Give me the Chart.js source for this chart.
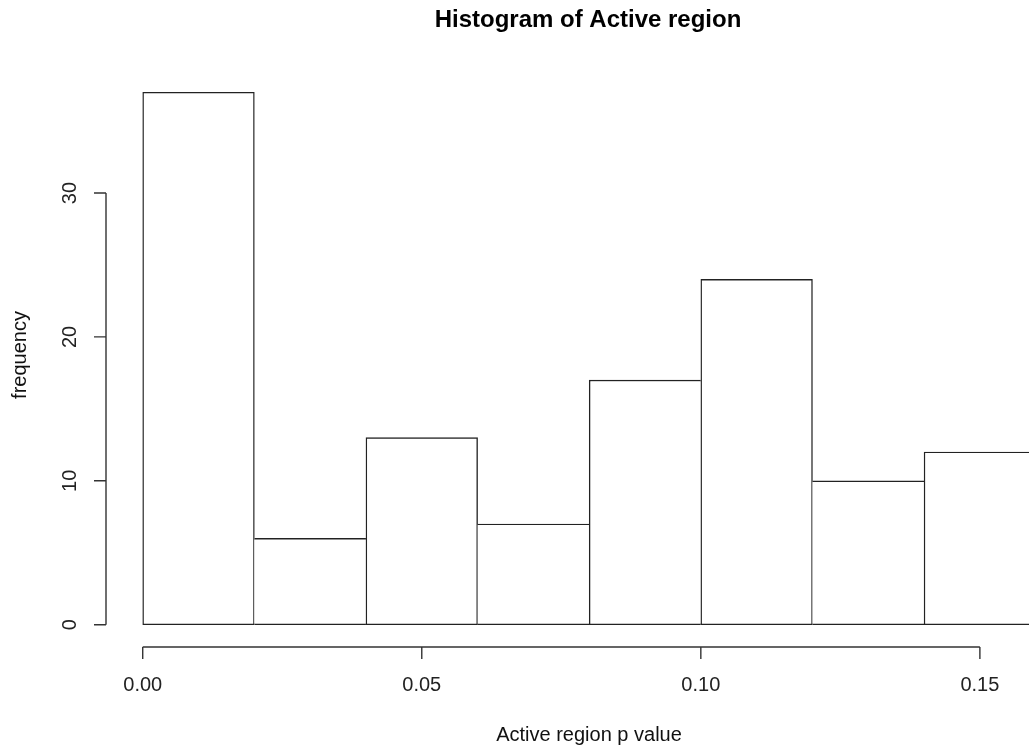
<!DOCTYPE html>
<html>
<head>
<meta charset="utf-8">
<script src="https://cdn.jsdelivr.net/npm/chart.js@4"></script>
<style>
  html, body { margin: 0; padding: 0; background: #fff; }
  #wrap { width: 1029px; height: 749px; }
</style>
</head>
<body>
<div id="wrap"><canvas id="graph"></canvas></div>
<script>
// histogram bins (left edges) and counts
const binStarts = [0.00, 0.02, 0.04, 0.06, 0.08, 0.10, 0.12, 0.14];
const binWidth = 0.02;
const counts = [37, 6, 13, 7, 17, 24, 10, 12];
const xTicks = [0.00, 0.05, 0.10, 0.15];
const xTickLabels = ['0.00', '0.05', '0.10', '0.15'];
const yTicks = [0, 10, 20, 30];

const titleText = 'Histogram of Active region';
const xTitle = 'Active region p value';
const yTitle = 'frequency';
const fontFamily = '"Liberation Sans", Arial, sans-serif';
const lineW = 1.4;

const barData = binStarts.map((s, i) => ({ x: s + binWidth / 2, y: counts[i] }));

// shared bar edges are drawn once, by the taller neighbour
function edgeWidths(ctx) {
    const i = ctx.dataIndex;
    const c = counts[i];
    const prev = i > 0 ? counts[i - 1] : -1;
    const next = i < counts.length - 1 ? counts[i + 1] : -1;
    return {
        top: lineW,
        bottom: lineW,
        left: c >= prev ? lineW : 0,
        right: c > next ? lineW : 0
    };
}

// R style axes, drawn off the plot region
const rAxes = {
    id: 'rAxes',
    afterDraw(chart) {
        const ctx = chart.ctx;
        const xs = chart.scales.x;
        const ys = chart.scales.y;
        const area = chart.chartArea;
        ctx.save();
        ctx.strokeStyle = '#333';
        ctx.fillStyle = '#222';
        ctx.lineWidth = lineW;

        // x axis
        const xAxisY = area.bottom + 1;
        const x0 = xs.getPixelForValue(xTicks[0]);
        const x1 = xs.getPixelForValue(xTicks[xTicks.length - 1]);
        ctx.beginPath();
        ctx.moveTo(x0, xAxisY);
        ctx.lineTo(x1, xAxisY);
        xTicks.forEach(v => {
            const px = xs.getPixelForValue(v);
            ctx.moveTo(px, xAxisY);
            ctx.lineTo(px, xAxisY + 12);
        });
        ctx.stroke();
        ctx.font = '20px ' + fontFamily;
        ctx.textAlign = 'center';
        ctx.textBaseline = 'middle';
        xTicks.forEach((v, i) => {
            ctx.fillText(xTickLabels[i], xs.getPixelForValue(v), 685);
        });

        // y axis
        const yAxisX = area.left - 1;
        const yb = ys.getPixelForValue(yTicks[0]);
        const yt = ys.getPixelForValue(yTicks[yTicks.length - 1]);
        ctx.beginPath();
        ctx.moveTo(yAxisX, yb);
        ctx.lineTo(yAxisX, yt);
        yTicks.forEach(v => {
            const py = ys.getPixelForValue(v);
            ctx.moveTo(yAxisX, py);
            ctx.lineTo(yAxisX - 12, py);
        });
        ctx.stroke();
        yTicks.forEach(v => {
            ctx.save();
            ctx.translate(70, ys.getPixelForValue(v));
            ctx.rotate(-Math.PI / 2);
            ctx.fillText(String(v), 0, 0);
            ctx.restore();
        });

        // titles
        ctx.fillStyle = '#111';
        ctx.fillText(xTitle, 589, 735);
        ctx.save();
        ctx.translate(20, 355);
        ctx.rotate(-Math.PI / 2);
        ctx.fillText(yTitle, 0, 0);
        ctx.restore();
        ctx.font = 'bold 24px ' + fontFamily;
        ctx.fillStyle = '#000';
        ctx.fillText(titleText, 588, 20);
        ctx.restore();
    }
};

new Chart(document.getElementById('graph').getContext('2d'), {
    type: 'bar',
    data: {
        datasets: [{
            data: barData,
            backgroundColor: '#ffffff',
            borderColor: '#222',
            borderWidth: edgeWidths,
            borderSkipped: false,
            barPercentage: 1,
            categoryPercentage: 1,
            grouped: false
        }]
    },
    options: {
        responsive: true,
        maintainAspectRatio: false,
        animation: false,
        layout: { padding: { left: 107, right: 0, top: 71, bottom: 103 } },
        plugins: { legend: { display: false }, tooltip: { enabled: false } },
        scales: {
            x: {
                type: 'linear', display: false, min: -0.0064, max: 0.1588, offset: false,
                // ticks on the bin edges so the bar ruler spans a whole bin
                afterBuildTicks: scale => {
                    scale.ticks = binStarts.map(v => ({ value: v }));
                }
            },
            y: { type: 'linear', display: false, min: -1.48, max: 38.48 }
        }
    },
    plugins: [rAxes]
});
</script>
</body>
</html>
